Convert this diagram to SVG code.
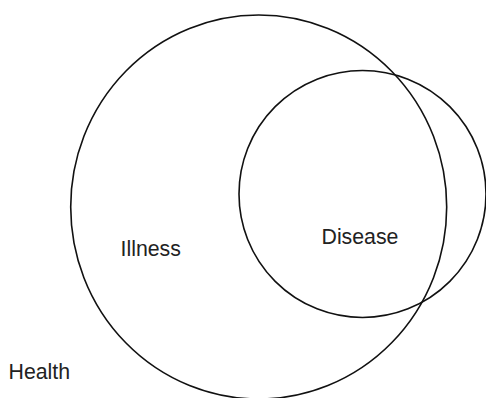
<svg xmlns="http://www.w3.org/2000/svg" width="486" height="398" viewBox="0 0 486 398">
<style>
.c{fill:none;stroke:#111;stroke-width:1.6}
.t{font-family:"Liberation Sans",Arial,sans-serif;font-size:21.3px;fill:#222}
</style>
<rect width="486" height="398" fill="#fff"/>
<g id="illness">
<ellipse class="c" cx="258.7" cy="207" rx="188" ry="192"/>
<text class="t" x="120.5" y="256">Illness</text>
</g>
<g id="disease">
<circle class="c" cx="362.5" cy="194" r="123.5"/>
<text class="t" x="321.5" y="243.5">Disease</text>
</g>
<g id="health">
<text class="t" x="8.5" y="378.5">Health</text>
</g>
<g id="connectors"/>
</svg>
